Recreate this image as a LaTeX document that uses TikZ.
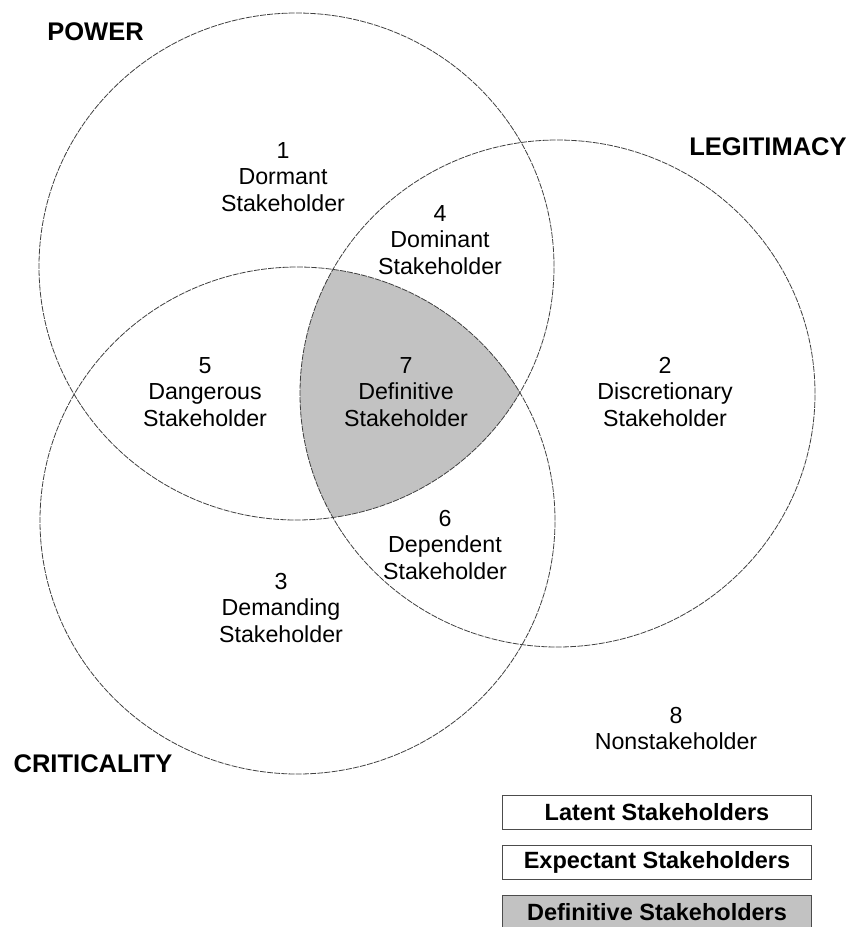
\documentclass[tikz,border=0pt]{standalone}
\usepackage{fontspec}
\setmainfont{Liberation Sans}
\begin{document}
\begin{tikzpicture}[x=1pt,y=-1pt,
  ring/.style={draw=black!75,line width=0.8pt,dash pattern=on 6pt off 1.2pt},
  region/.style={align=center,font=\fontsize{23.2}{26.8}\selectfont,inner sep=0pt},
  attr/.style={font=\fontsize{25.5}{30}\selectfont\bfseries,inner sep=0pt},
  keybox/.style={draw=black!70,line width=0.8pt,minimum width=309pt,minimum height=34pt,
                 inner sep=0pt,font=\fontsize{23.5}{26}\selectfont\bfseries},
  core/.style={fill=black!24}]
\useasboundingbox (0,0) rectangle (851,927);

% the three attribute sets
\def\powerset{(296.5,266.5) ellipse [x radius=257.5pt, y radius=253.5pt]}
\def\legitset{(557.5,393.5) ellipse [x radius=257.5pt, y radius=253.5pt]}
\def\critset{(297.5,520.5) ellipse [x radius=257.5pt, y radius=253.5pt]}

% region shared by all three attributes
\begin{scope}
  \clip \powerset;
  \clip \legitset;
  \fill[core] \critset;
\end{scope}

\draw[ring] \powerset;
\draw[ring] \legitset;
\draw[ring] \critset;

% attribute names
\node[attr] (power) at (95.5,32) {POWER};
\node[attr] (legit) at (768,147) {LEGITIMACY};
\node[attr] (crit) at (93,764) {CRITICALITY};

% stakeholder classes
\node[region] (r1) at (283,177) {1\\Dormant\\Stakeholder};
\node[region] (r4) at (440,240) {4\\Dominant\\Stakeholder};
\node[region] (r5) at (205,392) {5\\Dangerous\\Stakeholder};
\node[region] (r7) at (406,392) {7\\Definitive\\Stakeholder};
\node[region] (r2) at (665,392) {2\\Discretionary\\Stakeholder};
\node[region] (r6) at (445,545) {6\\Dependent\\Stakeholder};
\node[region] (r3) at (281,608) {3\\Demanding\\Stakeholder};
\node[region] (r8) at (676,728.5) {8\\Nonstakeholder};

% key
\node[keybox] (latent) at (657,812) {Latent Stakeholders};
\node[keybox] (expectant) at (657,862) {Expectant Stakeholders};
\node[keybox,core] (definitive) at (657,912) {Definitive Stakeholders};
\end{tikzpicture}
\end{document}
